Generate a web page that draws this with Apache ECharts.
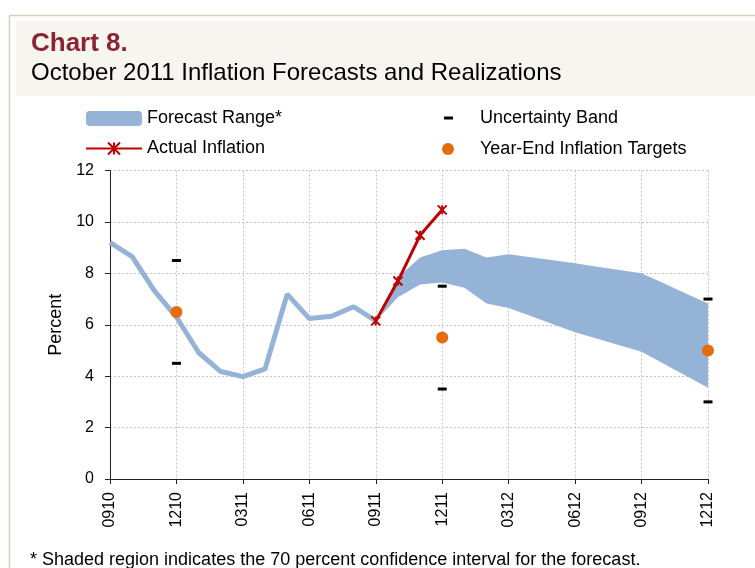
<!DOCTYPE html>
<html>
<head>
<meta charset="utf-8">
<script src="https://cdn.jsdelivr.net/npm/echarts@6/dist/echarts.min.js"></script>
<style>
  html, body { margin: 0; padding: 0; background: #fff; }
  #chart { width: 755px; height: 568px; }
</style>
</head>
<body>
<div id="chart"></div>
<script>
// month labels (MMYY)
var months = ['0910', '1010', '1110', '1210', '0111', '0211', '0311', '0411', '0511', '0611', '0711', '0811',
  '0911', '1011', '1111', '1211', '0112', '0212', '0312', '0412', '0512', '0612', '0712', '0812',
  '0912', '1012', '1112', '1212'];

// inflation path before the forecast (0910 .. 0911)
var pastInflation = [9.2, 8.65, 7.33, 6.3, 4.92, 4.18, 3.98, 4.28, 7.19, 6.24, 6.33, 6.7, 6.15];

// realized inflation after the forecast (0911 .. 1211)
var actualStart = 12;
var actual = [6.15, 7.7, 9.48, 10.47];

// forecast range (0911 .. 1212)
var bandStart = 12;
var bandUpper = [6.15, 7.85, 8.62, 8.9, 8.96, 8.62, 8.74, 8.63, 8.51, 8.39, 8.26, 8.13, 8.0, 7.61, 7.22, 6.83];
var bandLower = [6.15, 7.07, 7.57, 7.64, 7.44, 6.83, 6.65, 6.34, 6.02, 5.71, 5.46, 5.2, 4.95, 4.48, 4.02, 3.55];

// year-end targets and uncertainty band
var targetMonths = ['1210', '1211', '1212'];
var targets = [6.5, 5.5, 5.0];
var uncUpper = [8.5, 7.5, 7.0];
var uncLower = [4.5, 3.5, 3.0];

function pad(arr, start) {
  var out = [];
  for (var i = 0; i < months.length; i++) {
    var j = i - start;
    out.push(j >= 0 && j < arr.length ? arr[j] : '-');
  }
  return out;
}

var bandWidth = bandUpper.map(function (v, i) { return +(v - bandLower[i]).toFixed(2); });

var uncData = [];
targetMonths.forEach(function (m, i) {
  uncData.push([m, uncUpper[i]]);
  uncData.push([m, uncLower[i]]);
});
var targetData = targetMonths.map(function (m, i) { return [m, targets[i]]; });

var blue = '#95b3d7';
var red = '#c00000';
var orange = '#e46c0a';
var font = 'Liberation Sans';

var myChart = echarts.init(document.getElementById('chart'));
myChart.setOption({
  animation: false,
  textStyle: { fontFamily: font },
  graphic: [
    // frame
    { type: 'line', shape: { x1: 9.5, y1: 15.5, x2: 755, y2: 15.5 }, style: { stroke: '#d6cdbd', lineWidth: 1.5 } },
    { type: 'line', shape: { x1: 9.5, y1: 15.5, x2: 9.5, y2: 568 }, style: { stroke: '#d6cdbd', lineWidth: 1.5 } },
    // header box
    { type: 'rect', shape: { x: 16, y: 21, width: 739, height: 75 }, style: { fill: '#f6f5f0' }, z: -1 },
    { type: 'text', x: 31, y: 31, style: { text: 'Chart 8.', font: 'bold 26px "Liberation Sans"', fill: '#8c2333' } },
    { type: 'text', x: 31, y: 61, style: { text: 'October 2011 Inflation Forecasts and Realizations', font: '24px "Liberation Sans"', fill: '#000' } },
    // footnote
    { type: 'text', x: 30, y: 551, style: { text: '* Shaded region indicates the 70 percent confidence interval for the forecast.', font: '18px "Liberation Sans"', fill: '#000' } }
  ],
  legend: [
    {
      left: 85, top: 109.5, padding: 0, orient: 'vertical',
      itemWidth: 56, itemHeight: 15, itemGap: 12,
      selectedMode: false,
      textStyle: { fontSize: 18, color: '#000', fontFamily: font },
      data: [{ name: 'Forecast Range*', icon: 'roundRect' }, { name: 'Actual Inflation' }]
    },
    {
      left: 444, top: 109, padding: 0,
      itemWidth: 9, itemHeight: 3,
      selectedMode: false,
      textStyle: { fontSize: 18, color: '#000', fontFamily: font, padding: [0, 0, 0, 22] },
      data: [{ name: 'Uncertainty Band', icon: 'rect' }]
    },
    {
      left: 442, top: 140, padding: 0,
      itemWidth: 12, itemHeight: 12,
      selectedMode: false,
      textStyle: { fontSize: 18, color: '#000', fontFamily: font, padding: [0, 0, 0, 21] },
      data: [{ name: 'Year-End Inflation Targets', icon: 'circle' }]
    }
  ],
  grid: { left: 110, right: 47, top: 170.5, bottom: 89 },
  xAxis: {
    type: 'category',
    data: months,
    boundaryGap: false,
    axisLine: { lineStyle: { color: '#222', width: 1 } },
    axisTick: { show: true, interval: 2, length: 5, lineStyle: { color: '#222' } },
    axisLabel: { interval: 2, rotate: 90, margin: 13, fontSize: 16, color: '#000', fontFamily: font },
    splitLine: { show: true, interval: 2, lineStyle: { color: '#c4c4c4', type: [2, 2] } }
  },
  yAxis: {
    type: 'value',
    min: 0, max: 12, interval: 2,
    name: 'Percent',
    nameLocation: 'middle',
    nameGap: 38,
    nameTextStyle: { fontSize: 18, color: '#000', fontFamily: font },
    axisLine: { show: true, lineStyle: { color: '#222', width: 1 } },
    axisTick: { show: true, length: 5, lineStyle: { color: '#222' } },
    axisLabel: { margin: 16, fontSize: 16, color: '#000', fontFamily: font },
    splitLine: { show: true, lineStyle: { color: '#c4c4c4', type: [2, 2] } }
  },
  series: [
    {
      name: 'lower',
      type: 'line',
      stack: 'band',
      data: pad(bandLower, bandStart),
      symbol: 'none',
      lineStyle: { opacity: 0 },
      silent: true,
      z: 1
    },
    {
      name: 'Forecast Range*',
      type: 'line',
      stack: 'band',
      data: pad(bandWidth, bandStart),
      symbol: 'none',
      itemStyle: { color: blue },
      lineStyle: { opacity: 0 },
      areaStyle: { color: blue, opacity: 1 },
      silent: true,
      z: 1
    },
    {
      name: 'Past Inflation',
      type: 'line',
      data: pad(pastInflation, 0),
      symbol: 'none',
      lineStyle: { color: blue, width: 5 },
      itemStyle: { color: blue },
      silent: true,
      z: 2
    },
    {
      name: 'Actual Inflation',
      type: 'line',
      data: pad(actual, actualStart),
      symbol: 'path://M0,0L10,10M10,0L0,10M5,0L5,10',
      symbolSize: 9,
      showAllSymbol: true,
      lineStyle: { color: red, width: 3 },
      itemStyle: { color: red, borderColor: red, borderWidth: 2 },
      z: 4
    },
    {
      name: 'Uncertainty Band',
      type: 'scatter',
      data: uncData,
      symbol: 'rect',
      symbolSize: [9, 3],
      itemStyle: { color: '#000', opacity: 1 },
      z: 5
    },
    {
      name: 'Year-End Inflation Targets',
      type: 'scatter',
      data: targetData,
      symbol: 'circle',
      symbolSize: 12,
      itemStyle: { color: orange, opacity: 1 },
      z: 5
    }
  ]
});
</script>
</body>
</html>
